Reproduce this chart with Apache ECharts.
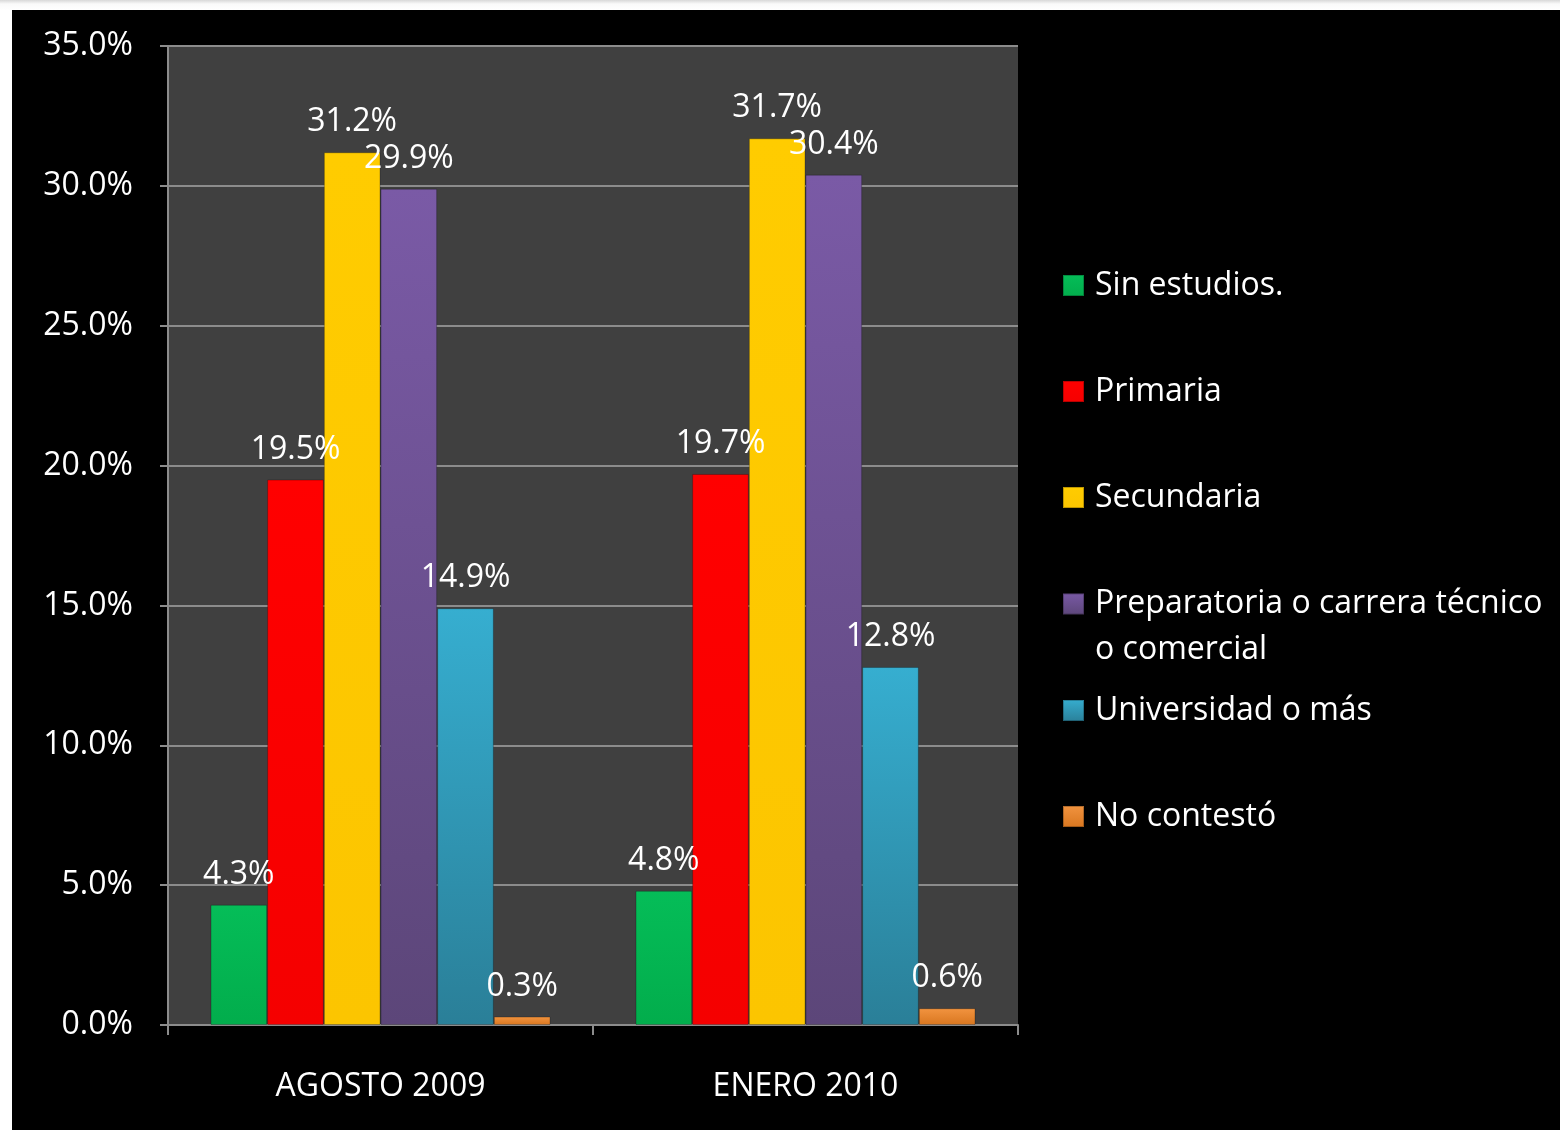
<!DOCTYPE html>
<html>
<head>
<meta charset="utf-8">
<script src="https://cdn.jsdelivr.net/npm/echarts@6/dist/echarts.min.js"></script>
<style>
  html, body { margin: 0; padding: 0; background: #fff; }
  #strip { position: absolute; left: 0; top: 0; width: 1560px; height: 10px;
    background: linear-gradient(to bottom, #d8d8d8 0%, #fafafa 40%, #ffffff 100%); }
  #main { position: absolute; left: 12px; top: 10px; width: 1548px; height: 1120px; background: #000; }
</style>
</head>
<body>
<div id="strip"></div>
<div id="main"></div>
<script>
// datos
var periodos = ['AGOSTO 2009', 'ENERO 2010'];
var niveles = ['Sin estudios.', 'Primaria', 'Secundaria',
  'Preparatoria o carrera técnico o comercial', 'Universidad o más', 'No contestó'];
var sinEstudios = [4.3, 4.8];
var primaria = [19.5, 19.7];
var secundaria = [31.2, 31.7];
var preparatoria = [29.9, 30.4];
var universidad = [14.9, 12.8];
var noContesto = [0.3, 0.6];
var yTicks = [0, 5, 10, 15, 20, 25, 30, 35];

var valores = [sinEstudios, primaria, secundaria, preparatoria, universidad, noContesto];

function grad(top, bottom) {
  return new echarts.graphic.LinearGradient(0, 0, 0, 1, [
    { offset: 0, color: top },
    { offset: 1, color: bottom }
  ]);
}

var colores = [
  grad('#05bd58', '#02ad4c'),
  grad('#ff0000', '#f50000'),
  grad('#ffcc00', '#fcc500'),
  grad('#7a5aa6', '#5c4679'),
  grad('#36aed0', '#2a7f98'),
  grad('#f29440', '#d8761f')
];

var font = '"Open Sans", "Noto Sans", sans-serif';
var fontSize = 32;

var series = niveles.map(function (n, i) {
  return {
    name: n,
    type: 'bar',
    data: valores[i],
    barGap: '0%',
    barCategoryGap: '20%',
    itemStyle: { color: colores[i], borderColor: 'rgba(0,0,0,0.25)', borderWidth: 1 },
    label: {
      show: true,
      position: 'top',
      distance: 14,
      color: '#fff',
      fontFamily: font,
      fontSize: fontSize,
      formatter: function (p) { return p.value.toFixed(1) + '%'; }
    }
  };
});

// una leyenda por serie para fijar la posición vertical de cada elemento
var legendCentros = [270, 376, 482, 594, 695, 801];
var legends = niveles.map(function (n, i) {
  var dos = i === 3;
  return {
    data: [n],
    left: 1050,
    top: dos ? legendCentros[i] - 69 : legendCentros[i] - 10.5,
    padding: 0,
    icon: 'rect',
    itemWidth: 21,
    itemHeight: 21,
    selectedMode: false,
    formatter: function (name) {
      // línea vacía arriba para que la primera línea quede junto al icono
      return dos ? ' \nPreparatoria o carrera técnico\no comercial' : name;
    },
    textStyle: {
      color: '#fff',
      fontFamily: font,
      fontSize: fontSize,
      lineHeight: dos ? 46 : 21,
      padding: [0, 0, 0, 6]
    }
  };
});

var chart = echarts.init(document.getElementById('main'));
chart.setOption({
  backgroundColor: '#000',
  animation: false,
  grid: {
    left: 156, top: 36, right: 542, bottom: 105,
    show: true, backgroundColor: '#404040', borderWidth: 0
  },
  legend: legends,
  xAxis: {
    type: 'category',
    data: periodos,
    axisLine: { lineStyle: { color: '#8c8c8c', width: 2 } },
    axisTick: { show: true, length: 10, lineStyle: { color: '#8c8c8c', width: 2 } },
    axisLabel: { color: '#fff', fontFamily: font, fontSize: fontSize, margin: 46 }
  },
  yAxis: {
    type: 'value',
    min: yTicks[0],
    max: yTicks[yTicks.length - 1],
    interval: 5,
    axisLine: { show: true, lineStyle: { color: '#8c8c8c', width: 2 } },
    axisTick: { show: true, length: 8, lineStyle: { color: '#8c8c8c', width: 2 } },
    splitLine: { lineStyle: { color: '#8c8c8c', width: 2 } },
    axisLabel: {
      color: '#fff', fontFamily: font, fontSize: fontSize, margin: 35,
      formatter: function (v) { return v.toFixed(1) + '%'; }
    }
  },
  series: series
});
</script>
</body>
</html>
